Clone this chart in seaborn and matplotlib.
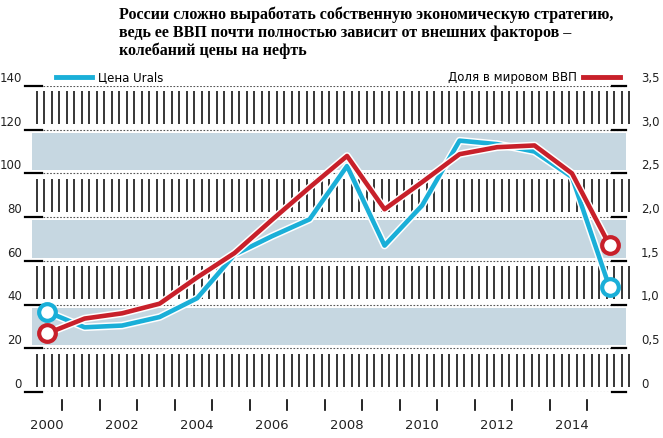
import numpy as np
import pandas as pd
import matplotlib
matplotlib.use("Agg")
import matplotlib.pyplot as plt
import seaborn as sns

years = list(range(2000, 2016))
urals = [36.7, 29.6, 30.4, 34.3, 42.9, 62.9, 71.3, 79.0, 103.4, 67.0, 85.3, 115.0, 113.4, 110.0, 98.3, 47.9]
share = [0.67, 0.84, 0.90, 1.01, 1.31, 1.59, 1.97, 2.34, 2.70, 2.09, 2.40, 2.72, 2.80, 2.82, 2.50, 1.68]
left_ticks = [0, 20, 40, 60, 80, 100, 120, 140]
right_labels = ["0", "0,5", "1,0", "1,5", "2,0", "2,5", "3,0", "3,5"]
year_labels = [2000, 2002, 2004, 2006, 2008, 2010, 2012, 2014]
title = ("России сложно выработать собственную экономическую стратегию,\n"
         "ведь ее ВВП почти полностью зависит от внешних факторов –\n"
         "колебаний цены на нефть")

df = pd.DataFrame({"year": years, "urals": urals, "share": share})
BLUE = "#1aafd8"
RED = "#c8202a"
BAND = "#c6d7e1"

fig = plt.figure(figsize=(6.63, 4.39), dpi=100)
ax = fig.add_axes([25/663, 46/439, 610/663, 306/439])
x0 = 1999.41 ; x1 = 2015.68
ax.set_xlim(x0, x1)
ax.set_ylim(0, 140)
ax2 = ax.twinx()
ax2.set_ylim(0, 3.5)
ax2.set_xlim(x0, x1)

# background bands and hatching
hx = np.arange(1999.72, 2015.6, 0.2)
for lo in left_ticks[:-1]:
    idx = lo // 20
    if idx % 2 == 1:
        ax.axhspan(lo + 1.5, lo + 18.5, xmin=0.012, xmax=0.985, color=BAND, lw=0, zorder=0)
    else:
        ax.vlines(hx, lo + 2.5, lo + 17.5, color="black", lw=1.1, zorder=0)
for t in left_ticks:
    ax.axhline(t, xmin=0.03, xmax=0.985, color="#555555", lw=0.8, ls=(0, (1.5, 1.5)), zorder=1)
    ax.plot([0, 0.028], [t, t], transform=ax.get_yaxis_transform(), color="black", lw=1.6, clip_on=False)
    ax.plot([0.962, 0.985], [t, t], transform=ax.get_yaxis_transform(), color="black", lw=1.6, clip_on=False)
    ax.text(-0.005, t + 1, str(t), transform=ax.get_yaxis_transform(), ha="right", va="bottom",
            fontsize=8.5, color="#222222")

for t, lab in zip(left_ticks, right_labels):
    ax.text(1.01, t + 1, lab, transform=ax.get_yaxis_transform(), ha="left", va="bottom",
            fontsize=8.5, color="#222222")

# lines
sns.lineplot(data=df, x="year", y="urals", ax=ax, color="white", lw=5.5, zorder=3)
sns.lineplot(data=df, x="year", y="urals", ax=ax, color=BLUE, lw=3.3, zorder=4)
sns.lineplot(data=df, x="year", y="share", ax=ax2, color="white", lw=5.5, zorder=3)
sns.lineplot(data=df, x="year", y="share", ax=ax2, color=RED, lw=3.3, zorder=4)
ends = df.iloc[[0, -1]]
ax.plot(ends["year"], ends["urals"], "o", ms=12, mfc="white", mec=BLUE, mew=3, zorder=6, clip_on=False)
ax2.plot(ends["year"], ends["share"], "o", ms=12, mfc="white", mec=RED, mew=3, zorder=6, clip_on=False)

for a in (ax, ax2):
    a.set_xlabel(""); a.set_ylabel("")
    a.set_yticks([]); a.set_xticks([])
    for s in a.spines.values():
        s.set_visible(False)
    a.patch.set_visible(False)

# x ticks between years
for y in np.arange(2000.4, 2015, 1.0):
    ax.plot([y, y], [-0.025, -0.06], transform=ax.get_xaxis_transform(), color="black", lw=1.2, clip_on=False)
for y in year_labels:
    ax.text(y, -0.085, str(y), transform=ax.get_xaxis_transform(), ha="center", va="top",
            fontsize=9.5, color="#222222")

# legends
ax.plot([0.05, 0.11], [1.03, 1.03], transform=ax.transAxes, color=BLUE, lw=3.5, clip_on=False)
ax.text(0.12, 1.03, "Цена Urals", transform=ax.transAxes, ha="left", va="center", fontsize=8.5)
ax.plot([0.915, 0.975], [1.03, 1.03], transform=ax.transAxes, color=RED, lw=3.5, clip_on=False)
ax.text(0.905, 1.03, "Доля в мировом ВВП", transform=ax.transAxes, ha="right", va="center", fontsize=8.5)

fig.text(0.18, 0.985, title, ha="left", va="top", fontsize=11.5, fontweight="bold",
         fontfamily="Liberation Serif", linespacing=1.15)

fig.savefig("out.png", dpi=100, facecolor="white")
